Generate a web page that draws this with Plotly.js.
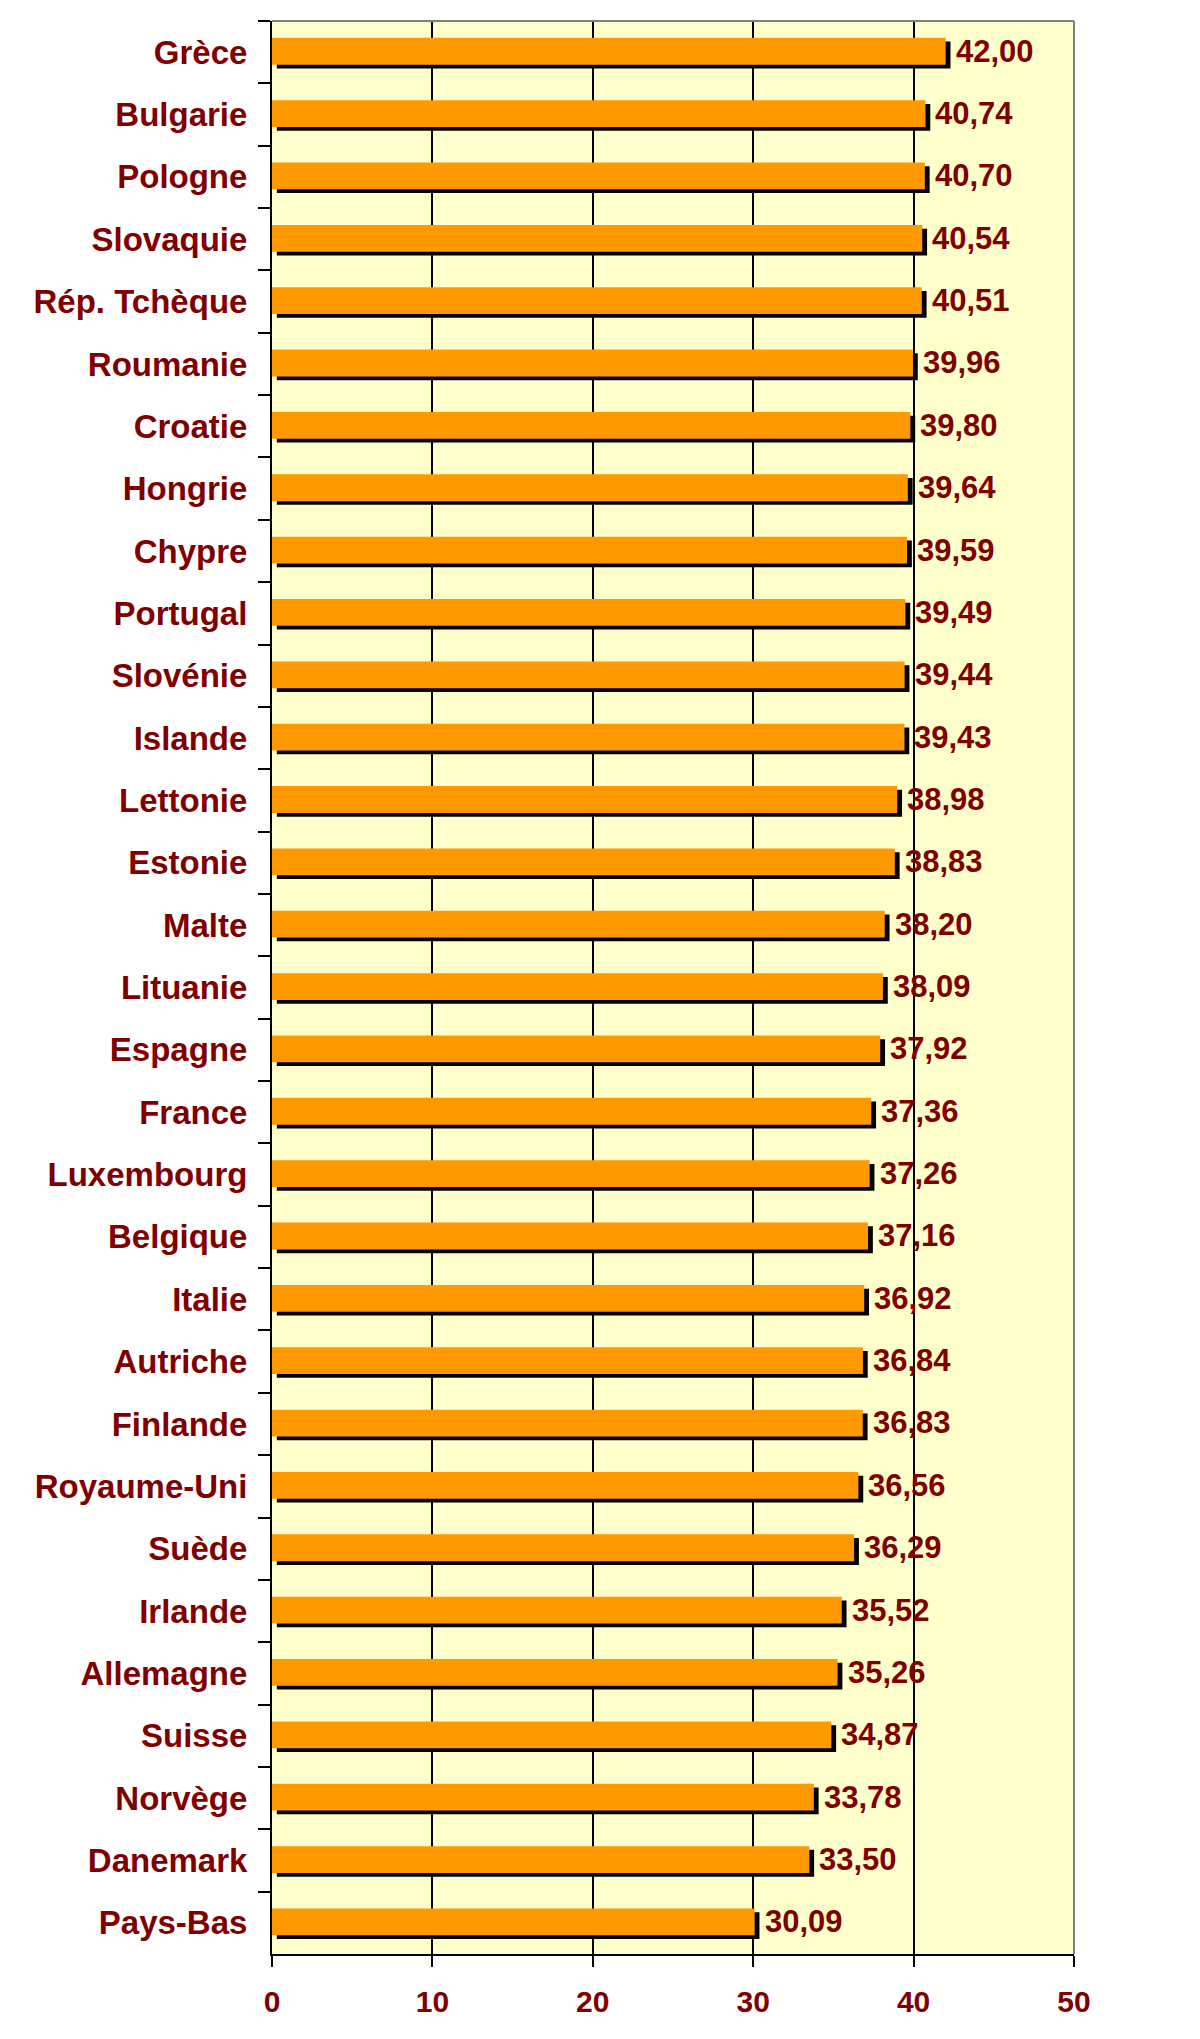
<!DOCTYPE html>
<html>
<head>
<meta charset="utf-8">
<script src="https://cdn.plot.ly/plotly-3.0.1.min.js"></script>
<style>html,body{margin:0;padding:0;background:#fff;}</style>
</head>
<body>
<div id="chart" style="width:1200px;height:2039px;"></div>
<script>
const countries = ["Grèce","Bulgarie","Pologne","Slovaquie","Rép. Tchèque","Roumanie","Croatie","Hongrie","Chypre","Portugal","Slovénie","Islande","Lettonie","Estonie","Malte","Lituanie","Espagne","France","Luxembourg","Belgique","Italie","Autriche","Finlande","Royaume-Uni","Suède","Irlande","Allemagne","Suisse","Norvège","Danemark","Pays-Bas"];
const values = [42.00,40.74,40.70,40.54,40.51,39.96,39.80,39.64,39.59,39.49,39.44,39.43,38.98,38.83,38.20,38.09,37.92,37.36,37.26,37.16,36.92,36.84,36.83,36.56,36.29,35.52,35.26,34.87,33.78,33.50,30.09];
const xTicks = [0,10,20,30,40,50];

const labelColor = "#800000";
const fontFam = "Liberation Sans, Arial, sans-serif";

const shadow = {
  type: "bar", orientation: "h",
  y: countries, x: values, base: 0.3,
  width: 0.43, offset: -0.17,
  marker: {color: "#000000", line: {width: 0}},
  hoverinfo: "skip", showlegend: false
};
const bars = {
  type: "bar", orientation: "h",
  y: countries, x: values,
  width: 0.43, offset: -0.23,
  marker: {color: "#FF9900", line: {width: 0}},
  showlegend: false
};

const annotations = countries.map((c, i) => ({
  x: values[i], y: c, xref: "x", yref: "y",
  text: values[i].toFixed(2).replace(".", ","),
  showarrow: false, xanchor: "left", yanchor: "middle",
  xshift: 8, yshift: 1,
  font: {family: fontFam, size: 31, color: labelColor, weight: "bold"}
}));

const layout = {
  width: 1200, height: 2039,
  margin: {l: 272, r: 126, t: 21, b: 85, pad: 0},
  paper_bgcolor: "#ffffff",
  plot_bgcolor: "#FFFFCC",
  barmode: "overlay",
  showlegend: false,
  xaxis: {
    range: [0, 50], tickvals: xTicks, ticktext: xTicks.map(String),
    showgrid: true, gridcolor: "#000000", gridwidth: 2,
    zeroline: false,
    showline: true, linecolor: "#000000", linewidth: 2,
    ticks: "outside", ticklen: 11, tickwidth: 2, tickcolor: "#000000",
    ticklabelstandoff: 9,
    tickfont: {family: fontFam, size: 30, color: labelColor, weight: "bold"}
  },
  yaxis: {
    type: "category", autorange: "reversed",
    showgrid: false, zeroline: false,
    showline: true, linecolor: "#000000", linewidth: 2,
    ticks: "outside", ticklen: 12, tickwidth: 2, tickcolor: "#000000",
    tickson: "boundaries",
    ticklabelstandoff: 16,
    tickfont: {family: fontFam, size: 33, color: labelColor, weight: "bold"}
  },
  shapes: [
    {type: "line", xref: "paper", yref: "paper", x0: 0, x1: 1, y0: 1, y1: 1, line: {color: "#808080", width: 2}, layer: "above"},
    {type: "line", xref: "paper", yref: "paper", x0: 1, x1: 1, y0: 0, y1: 1, line: {color: "#808080", width: 2}, layer: "above"}
  ],
  annotations: annotations
};

Plotly.newPlot("chart", [shadow, bars], layout, {displayModeBar: false, staticPlot: true});
</script>
</body>
</html>
